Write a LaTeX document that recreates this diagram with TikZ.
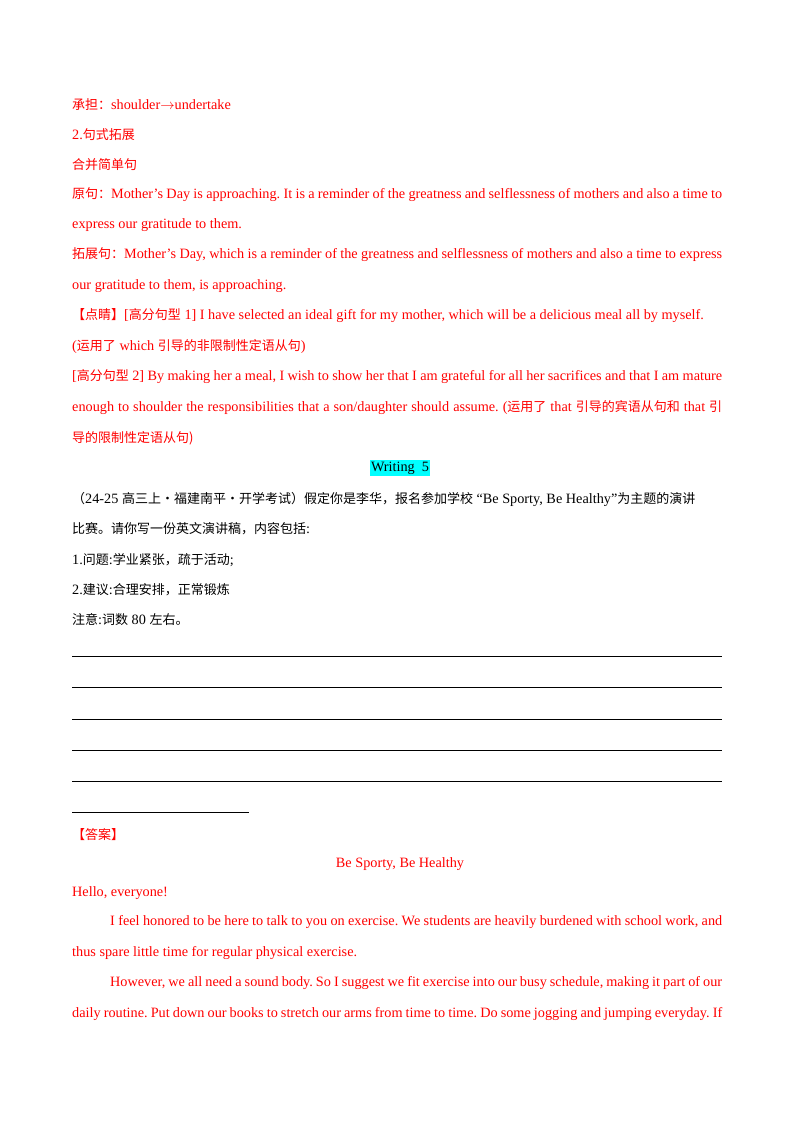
\documentclass[tikz,border=0pt]{standalone}
\usepackage{fontspec}
\setmainfont{Liberation Serif}
\newfontfamily\cjk{Noto Sans CJK SC}
\newcommand\zh[1]{{\cjk\fontsize{13}{15}\selectfont #1}}
\definecolor{redtx}{RGB}{255,0,0}
\definecolor{hl}{RGB}{0,255,255}
\frenchspacing
\begin{document}
\begin{tikzpicture}[x=1pt,y=-1pt,
  every node/.style={inner sep=0pt,font=\fontsize{14.25}{16}\selectfont\frenchspacing},
  ln/.style={anchor=west},
  jl/.style={anchor=west,text width=650pt,align=justify,execute at begin node={\parfillskip=0pt}},
  rd/.style={text=redtx},
  rule/.style={line width=0.6pt}]
\useasboundingbox (0,0) rectangle (800,1132);
\node[ln,rd] (l1) at (72,105) {\zh{承担：}shoulder$\rightarrow$undertake};
\node[ln,rd] (l2) at (72,135) {2.\zh{句式拓展}};
\node[ln,rd] (l3) at (72,165) {\zh{合并简单句}};
\node[jl,rd] (l4) at (72,195) {\zh{原句：}Mother’s Day is approaching. It is a reminder of the greatness and selflessness of mothers and also a time to};
\node[ln,rd] (l5) at (72,225) {express our gratitude to them.};
\node[jl,rd] (l6) at (72,255) {\zh{拓展句：}Mother’s Day, which is a reminder of the greatness and selflessness of mothers and also a time to express};
\node[ln,rd] (l7) at (72,286) {our gratitude to them, is approaching.};
\node[ln,rd] (l8) at (72,316) {\zh{【点睛】}[\zh{高分句型} 1] I have selected an ideal gift for my mother, which will be a delicious meal all by myself.};
\node[ln,rd] (l9) at (72,347) {(\zh{运用了} which \zh{引导的非限制性定语从句})};
\node[jl,rd] (l10) at (72,377) {[\zh{高分句型} 2] By making her a meal, I wish to show her that I am grateful for all her sacrifices and that I am mature};
\node[jl,rd] (l11) at (72,408) {enough to shoulder the responsibilities that a son/daughter should assume. (\zh{运用了} that \zh{引导的宾语从句和} that \zh{引}};
\node[ln,rd] (l12) at (72,438) {\zh{导的限制性定语从句)}};
\node[fill=hl,inner xsep=1pt,inner ysep=2pt] (w5) at (400,468) {Writing\ \ 5};
\node[ln] (l13) at (72,499) {\zh{（}24-25 \zh{高三上·福建南平·开学考试）假定你是李华，报名参加学校} “Be Sporty, Be Healthy”\zh{为主题的演讲}};
\node[ln] (l14) at (72,529) {\zh{比赛。请你写一份英文演讲稿，内容包括}:};
\node[ln] (l15) at (72,560) {1.\zh{问题}:\zh{学业紧张，疏于活动}; };
\node[ln] (l16) at (72,590) {2.\zh{建议}:\zh{合理安排，正常锻炼}};
\node[ln] (l17) at (72,620) {\zh{注意}:\zh{词数} 80 \zh{左右。}};
\foreach \yy in {656,687,719,750,781}{\draw[rule] (72,\yy) -- (722,\yy);}
\draw[rule] (72,812) -- (249,812);
\node[ln,rd] (l18) at (72,835) {\zh{【答案】}};
\node[rd] (t) at (400,864) {Be Sporty, Be Healthy};
\node[ln,rd] (l19) at (72,893) {Hello, everyone!};
\node[anchor=west,text width=612pt,align=justify,execute at begin node={\parfillskip=0pt},rd] (l20) at (110,922) {I feel honored to be here to talk to you on exercise. We students are heavily burdened with school work, and};
\node[ln,rd] (l21) at (72,953) {thus spare little time for regular physical exercise.};
\node[anchor=west,text width=612pt,align=justify,execute at begin node={\parfillskip=0pt},rd] (l22) at (110,983) {However, we all need a sound body. So I suggest we fit exercise into our busy schedule, making it part of our};
\node[jl,rd] (l23) at (72,1014) {daily routine. Put down our books to stretch our arms from time to time. Do some jogging and jumping everyday. If};
\end{tikzpicture}
\end{document}
